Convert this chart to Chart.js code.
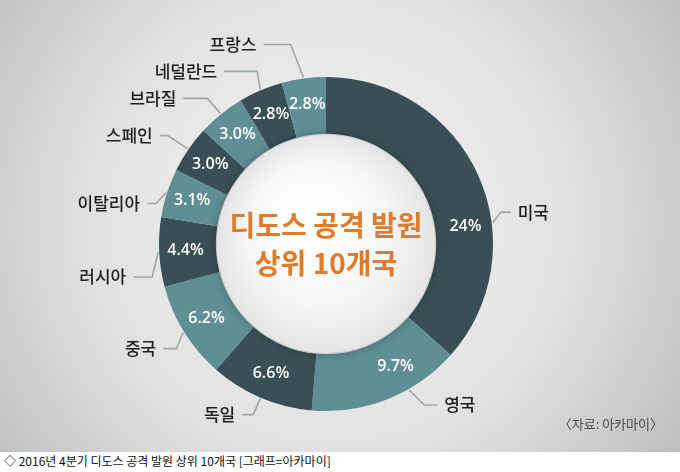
<!DOCTYPE html>
<html>
<head>
<meta charset="utf-8">
<script src="https://cdn.jsdelivr.net/npm/chart.js@4/dist/chart.umd.min.js"></script>
<style>
  html, body { margin: 0; padding: 0; background: #fff; }
  #wrap { position: relative; width: 680px; height: 452px; }
  #caption {
    width: 680px; height: 20px; line-height: 18px;
    font: 12px "Noto Sans CJK KR", sans-serif; color: #111;
    padding-left: 4px; box-sizing: border-box; white-space: nowrap;
  }
</style>
</head>
<body>
<div id="wrap"><canvas id="ddosChart" width="680" height="452"></canvas></div>
<div id="caption">◇ 2016년 4분기 디도스 공격 발원 상위 10개국 [그래프=아카마이]</div>
<script>
// data (% of attacks)
const countries = ['미국', '영국', '독일', '중국', '러시아', '이탈리아', '스페인', '브라질', '네덜란드', '프랑스'];
const shares = [24, 9.7, 6.6, 6.2, 4.4, 3.1, 3.0, 3.0, 2.8, 2.8];
const titleLines = ['디도스 공격 발원', '상위 10개국'];
const sourceNote = '〈자료: 아카마이〉';

// label layout (not data): turn of the label from the slice middle in degrees,
// bend of the leader line and length of its flat run
const labelTurn = [17, -8, 0, 0, 0, 0, 0, 0, 0, 0];
const leaderBend = [[8, -11], [15, 15], [-7, 16], [-7, 16], [-6, 25], [-10, 11], [-20, -13], [-13, -15], [-3, -18], [-13, -33]];
const leaderRun = [10, 13, 11, 13, 19, 9, 8, 24, 33, 27];

const DARK = '#3a4f55';
const LIGHT = '#5f8e95';

function pctText(v) {
  return (v >= 10 ? Math.round(v) : v.toFixed(1)) + '%';
}

const backdrop = {
  id: 'backdrop',
  beforeDraw(chart) {
    const ctx = chart.ctx;
    const g = ctx.createRadialGradient(330, 220, 20, 330, 220, 430);
    g.addColorStop(0, '#f6f6f6');
    g.addColorStop(0.55, '#e0e0e0');
    g.addColorStop(1, '#bcbcbc');
    ctx.save();
    ctx.fillStyle = g;
    ctx.fillRect(0, 0, chart.width, chart.height);
    ctx.restore();
  }
};

const decorations = {
  id: 'decorations',
  afterDatasetsDraw(chart) {
    const ctx = chart.ctx;
    const arcs = chart.getDatasetMeta(0).data;
    const cx = arcs[0].x, cy = arcs[0].y;
    const inner = arcs[0].innerRadius;

    // white disc inside the ring
    ctx.save();
    ctx.shadowColor = 'rgba(0,0,0,0.35)';
    ctx.shadowBlur = 10;
    const dg = ctx.createRadialGradient(cx - 20, cy - 30, 10, cx, cy, inner);
    dg.addColorStop(0, '#ffffff');
    dg.addColorStop(0.6, '#f6f6f6');
    dg.addColorStop(1, '#e4e4e4');
    ctx.fillStyle = dg;
    ctx.beginPath();
    ctx.arc(cx, cy, inner - 1, 0, Math.PI * 2);
    ctx.fill();
    ctx.restore();

    // title in the middle
    ctx.save();
    ctx.fillStyle = '#e07b2a';
    ctx.font = 'bold 28px "Noto Sans CJK KR", sans-serif';
    ctx.textAlign = 'center';
    ctx.textBaseline = 'middle';
    ctx.fillText(titleLines[0], cx, cy - 19);
    ctx.fillText(titleLines[1], cx, cy + 19);
    ctx.restore();

    arcs.forEach((arc, i) => {
      const a = (arc.startAngle + arc.endAngle) / 2 + labelTurn[i] * Math.PI / 180;
      const cos = Math.cos(a), sin = Math.sin(a);
      const mr = (arc.innerRadius + arc.outerRadius) / 2 + 2;

      // percentage on the slice
      ctx.save();
      ctx.fillStyle = '#ffffff';
      ctx.font = '600 16px "Open Sans", sans-serif';
      ctx.textAlign = 'center';
      ctx.textBaseline = 'middle';
      ctx.fillText(pctText(shares[i]), cx + cos * mr, cy + sin * mr);
      ctx.restore();

      // leader line
      const side = cos >= 0 ? 1 : -1;
      const sx = cx + cos * (arc.outerRadius + 1);
      const sy = cy + sin * (arc.outerRadius + 1);
      const ex = sx + leaderBend[i][0];
      const ey = sy + leaderBend[i][1];
      const fx = ex + side * leaderRun[i];
      ctx.save();
      ctx.strokeStyle = '#9ea7ac';
      ctx.lineWidth = 1.6;
      ctx.beginPath();
      ctx.moveTo(sx, sy);
      ctx.lineTo(ex, ey);
      ctx.lineTo(fx, ey);
      ctx.stroke();

      ctx.fillStyle = '#1e1e1e';
      ctx.font = '500 17px "Noto Sans CJK KR", sans-serif';
      ctx.textAlign = side > 0 ? 'left' : 'right';
      ctx.textBaseline = 'middle';
      ctx.fillText(countries[i], fx + side * 7, ey);
      ctx.restore();
    });

    // source note
    ctx.save();
    ctx.fillStyle = '#4a4a4a';
    ctx.font = '13px "Noto Sans CJK KR", sans-serif';
    ctx.textAlign = 'right';
    ctx.textBaseline = 'middle';
    ctx.fillText(sourceNote, 663, 424);
    ctx.restore();
  }
};

new Chart(document.getElementById('ddosChart'), {
  type: 'doughnut',
  data: {
    labels: countries,
    datasets: [{
      data: shares,
      backgroundColor: shares.map((v, i) => i % 2 === 0 ? DARK : LIGHT),
      borderWidth: 0
    }]
  },
  options: {
    responsive: false,
    animation: false,
    cutout: '66%',
    layout: { padding: { left: 159, right: 187, top: 77, bottom: 41 } },
    plugins: {
      legend: { display: false },
      tooltip: { enabled: false }
    }
  },
  plugins: [backdrop, decorations]
});
</script>
</body>
</html>
